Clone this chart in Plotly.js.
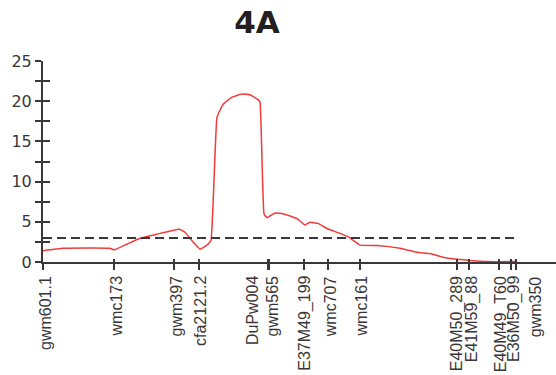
<!DOCTYPE html>
<html>
<head>
<meta charset="utf-8">
<script src="https://cdn.plot.ly/plotly-3.0.1.min.js"></script>
<style>html,body{margin:0;padding:0;background:#fff;}#chart{width:556px;height:375px;}</style>
</head>
<body>
<div id="chart"></div>
<script>
// Marker names and positions (cM)
const markerNames = ["gwm601.1","wmc173","gwm397","cfa2121.2","DuPw004","gwm565","E37M49_199","wmc707","wmc161","E40M50_289","E41M59_88","E40M49_T60","E36M50_99","gwm350"];
const markerPos   = [0, 28.4, 52.4, 62.4, 89.8, 90.4, 104.5, 113.9, 126.8, 165.5, 170.5, 182.5, 187.2, 189.1];

// LOD profile
const posCM = [0, 8, 26.8, 28.4, 38.8, 48, 53.2, 54.4, 56.8, 60, 62.8, 65.6, 67.2, 69.6, 72, 75.6, 79.6, 82.8, 86, 86.8, 88.4, 89.6, 92.8, 96, 101.6, 104.8, 106.8, 110, 114, 118, 122, 126.8, 133.6, 142.8, 149.6, 154.8, 160, 165.6, 170.8, 177.6, 189.2];
const lod   = [1.4, 1.7, 1.7, 1.5, 2.95, 3.65, 4.0, 4.1, 3.7, 2.5, 1.6, 2.1, 2.7, 18.0, 19.6, 20.5, 20.9, 20.8, 20.2, 19.9, 6.0, 5.5, 6.1, 6.0, 5.4, 4.6, 4.95, 4.8, 4.1, 3.65, 3.15, 2.1, 2.05, 1.7, 1.2, 1.05, 0.6, 0.35, 0.2, 0.05, 0.05];

const threshold = 3.0;
const yTickVals = [0, 2.5, 5, 7.5, 10, 12.5, 15, 17.5, 20, 22.5, 25];
const yTickText = ["0", "", "5", "", "10", "", "15", "", "20", "", "25"];
const chartTitle = "4A";

// label nudges (pixels), layout only
const labelNudge = {"DuPw004": -15, "gwm565": 3, "gwm350": 20, "E41M59_88": 3, "E36M50_99": 3, "wmc707": 3, "E37M49_199": 0, "wmc161": 1, "E40M50_289": 0, "cfa2121.2": 1};

const axisColor = "#3b3637";
const textColor = "#3a3536";

const traces = [
  {
    x: posCM, y: lod, type: "scatter", mode: "lines",
    line: {color: "#f23a3a", width: 1.5, shape: "spline", smoothing: 0.3},
    hoverinfo: "skip", showlegend: false
  },
  {
    x: markerPos, y: markerPos.map(() => 0), xaxis: "x2", yaxis: "y2",
    type: "scatter", mode: "markers", marker: {opacity: 0},
    hoverinfo: "skip", showlegend: false
  }
];

const xmax = 205.2;

const annotations = markerNames.map((n, i) => ({
  x: markerPos[i], xref: "x", y: 0, yref: "paper",
  text: n, showarrow: false, textangle: -90,
  xanchor: "center", yanchor: "top",
  xshift: (labelNudge[n] !== undefined ? labelNudge[n] : 2), yshift: -12,
  font: {family: "Arial, Liberation Sans, sans-serif", size: 16, color: textColor}
}));

const layout = {
  width: 556, height: 375,
  margin: {l: 43, r: 0, t: 61, b: 113, pad: 0},
  paper_bgcolor: "#ffffff", plot_bgcolor: "#ffffff",
  title: {
    text: "<b>" + chartTitle + "</b>",
    x: 257 / 556, xref: "container", xanchor: "center",
    y: 1 - 22 / 375, yref: "container", yanchor: "middle",
    font: {family: "DejaVu Sans, sans-serif", size: 31, color: "#231f20"}
  },
  xaxis: {
    range: [0, xmax], showline: true, linecolor: axisColor, linewidth: 2,
    ticks: "outside", ticklen: 6, tickwidth: 2, tickcolor: axisColor,
    tickvals: markerPos, showticklabels: false,
    showgrid: false, zeroline: false, fixedrange: true
  },
  xaxis2: {
    range: [0, xmax], overlaying: "x", showline: false,
    ticks: "inside", ticklen: 3, tickwidth: 2, tickcolor: axisColor,
    tickvals: markerPos, showticklabels: false,
    showgrid: false, zeroline: false
  },
  yaxis: {
    range: [0, 25], showline: true, linecolor: axisColor, linewidth: 2,
    ticks: "outside", ticklen: 6, tickwidth: 2, tickcolor: axisColor,
    tickvals: yTickVals, ticktext: yTickText,
    tickfont: {family: "DejaVu Sans, sans-serif", size: 16, color: textColor},
    showgrid: false, zeroline: false, fixedrange: true
  },
  yaxis2: {
    range: [0, 25], overlaying: "y", showline: false,
    ticks: "inside", ticklen: 7, tickwidth: 2, tickcolor: axisColor,
    tickvals: yTickVals, showticklabels: false,
    showgrid: false, zeroline: false
  },
  shapes: [{
    type: "line", xref: "x", yref: "y",
    x0: markerPos[0], x1: markerPos[markerPos.length - 1],
    y0: threshold, y1: threshold,
    line: {color: axisColor, width: 2, dash: "9px,5px"}
  }],
  annotations: annotations,
  showlegend: false
};

Plotly.newPlot("chart", traces, layout, {staticPlot: true, displayModeBar: false});
</script>
</body>
</html>
